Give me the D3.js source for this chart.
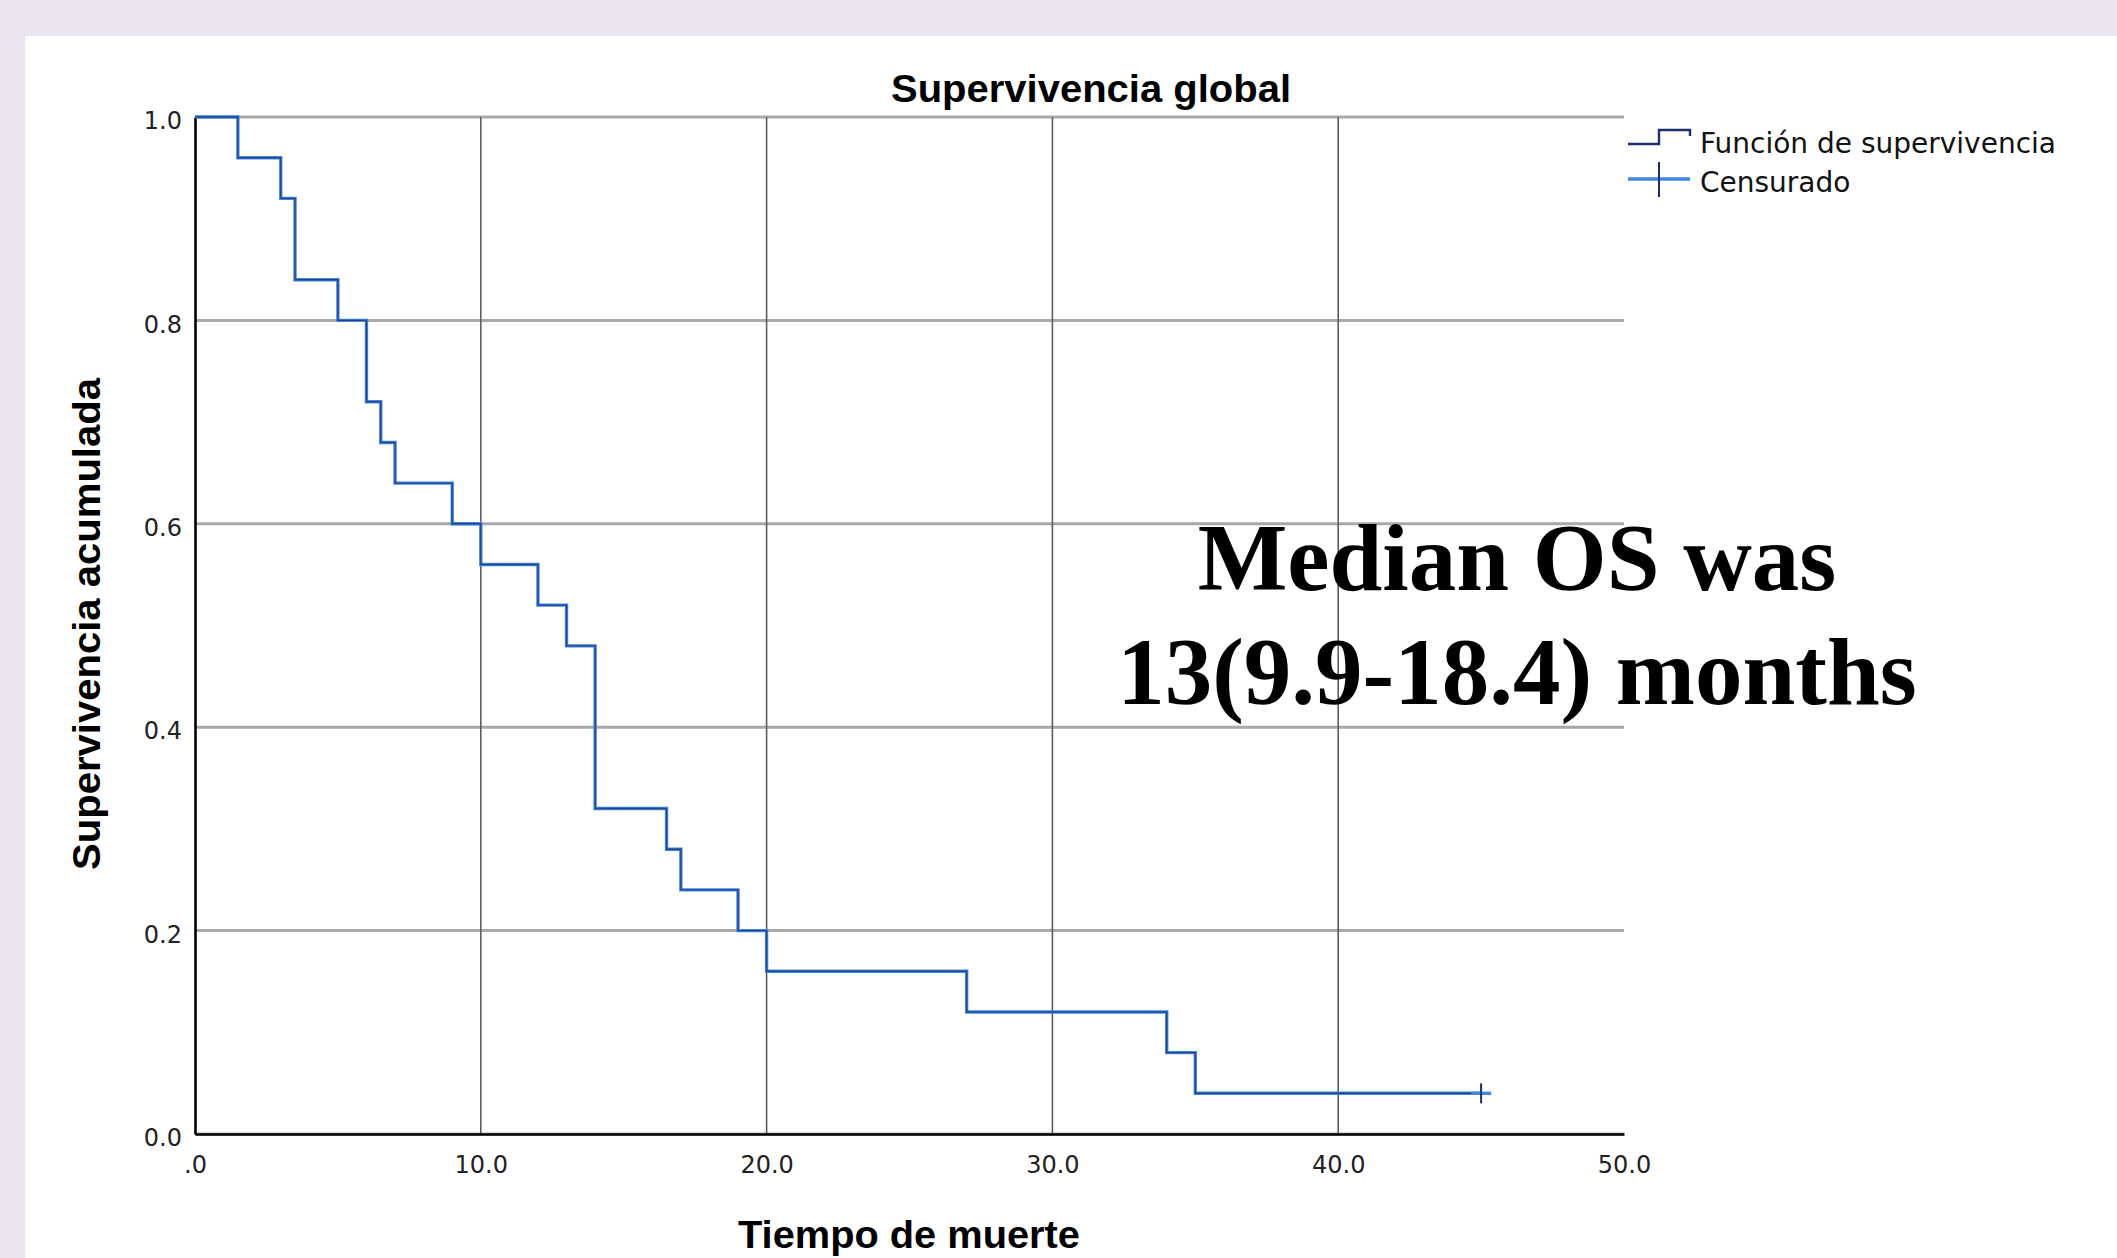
<!DOCTYPE html>
<html>
<head>
<meta charset="utf-8">
<script src="https://cdn.jsdelivr.net/npm/d3@7"></script>
<style>
  html, body { margin: 0; padding: 0; background: #e9e4f0; }
  svg { display: block; }
</style>
</head>
<body>
<svg id="chart" width="2117" height="1258"></svg>
<script>
// Kaplan-Meier step values
const eventTimes = [0, 1.5, 3, 3.5, 5, 6, 6.5, 7, 9, 10, 12, 13, 14, 16.5, 17, 19, 20, 27, 34, 35];
const survival = [1.0, 0.96, 0.92, 0.84, 0.80, 0.72, 0.68, 0.64, 0.60, 0.56, 0.52, 0.48, 0.32, 0.28, 0.24, 0.20, 0.16, 0.12, 0.08, 0.04];
const censoredTimes = [45];
const censoredSurvival = [0.04];

const xTicks = [0, 10, 20, 30, 40, 50];
const xTickLabels = ['.0', '10.0', '20.0', '30.0', '40.0', '50.0'];
const yTicks = [0, 0.2, 0.4, 0.6, 0.8, 1.0];
const yTickLabels = ['0.0', '0.2', '0.4', '0.6', '0.8', '1.0'];

const title = 'Supervivencia global';
const xTitle = 'Tiempo de muerte';
const yTitle = 'Supervivencia acumulada';
const legendLabels = ['Función de supervivencia', 'Censurado'];
const noteLines = ['Median OS was', '13(9.9-18.4) months'];

const navy = '#1d2c6e';
const lightBlue = '#4189e0';
const tickFont = '"DejaVu Sans", sans-serif';
const titleFont = '"Liberation Sans", Arial, sans-serif';

const svg = d3.select('#chart');

// white panel on the lavender page
svg.append('rect')
    .attr('x', 25).attr('y', 36)
    .attr('width', 2117 - 25).attr('height', 1258 - 36)
    .attr('fill', 'white');

const x = d3.scaleLinear().domain([0, 50]).range([195, 1624]);
const y = d3.scaleLinear().domain([0, 1]).range([1134, 117]);

// horizontal grid
svg.append('g')
    .selectAll('line')
    .data(yTicks)
    .join('line')
    .attr('x1', x(0)).attr('x2', x(50))
    .attr('y1', d => y(d)).attr('y2', d => y(d))
    .attr('stroke', '#a9a9a9')
    .attr('stroke-width', 3);

// vertical grid (inner ticks only)
svg.append('g')
    .selectAll('line')
    .data(xTicks.filter(d => d > 0 && d < 50))
    .join('line')
    .attr('x1', d => x(d)).attr('x2', d => x(d))
    .attr('y1', y(1)).attr('y2', y(0))
    .attr('stroke', '#5e5e5e')
    .attr('stroke-width', 1.6);

// axes
const xAxis = d3.axisBottom(x)
    .tickValues(xTicks)
    .tickSize(0)
    .tickPadding(0)
    .tickFormat((d, i) => xTickLabels[i]);

const gx = svg.append('g')
    .attr('transform', `translate(0,${y(0)})`)
    .call(xAxis);
gx.select('.domain').attr('stroke', '#000').attr('stroke-width', 2.6);
gx.selectAll('text')
    .attr('y', 39)
    .attr('dy', 0)
    .attr('fill', '#222')
    .style('font-family', tickFont)
    .style('font-size', '24px');

const yAxis = d3.axisLeft(y)
    .tickValues(yTicks)
    .tickSize(0)
    .tickPadding(13)
    .tickFormat((d, i) => yTickLabels[i]);

const gy = svg.append('g')
    .attr('transform', `translate(${x(0)},0)`)
    .call(yAxis);
gy.select('.domain').attr('stroke', '#000').attr('stroke-width', 2.6);
gy.selectAll('text')
    .attr('y', 4)
    .attr('fill', '#222')
    .style('font-family', tickFont)
    .style('font-size', '24px');

// survival curve, extended out to the last censored case
const curvePoints = eventTimes.map((t, i) => [t, survival[i]]);
curvePoints.push([censoredTimes[censoredTimes.length - 1], censoredSurvival[censoredSurvival.length - 1]]);

const stepLine = d3.line()
    .x(d => x(d[0]))
    .y(d => y(d[1]))
    .curve(d3.curveStepAfter);

svg.append('path')
    .datum(curvePoints)
    .attr('d', stepLine)
    .attr('fill', 'none')
    .attr('stroke', lightBlue)
    .attr('stroke-width', 3.4);

svg.append('path')
    .datum(curvePoints)
    .attr('d', stepLine)
    .attr('fill', 'none')
    .attr('stroke', navy)
    .attr('stroke-width', 1.4)
    .attr('stroke-opacity', 0.75);

// censor marks
const censorData = censoredTimes.map((t, i) => [t, censoredSurvival[i]]);
const marks = svg.append('g')
    .selectAll('g')
    .data(censorData)
    .join('g')
    .attr('transform', d => `translate(${x(d[0])},${y(d[1])})`);
marks.append('line')
    .attr('x1', -10).attr('x2', 10)
    .attr('stroke', lightBlue).attr('stroke-width', 3.4);
marks.append('line')
    .attr('y1', -10).attr('y2', 10)
    .attr('stroke', navy).attr('stroke-width', 2);

// titles
svg.append('text')
    .attr('x', 1091).attr('y', 102)
    .attr('text-anchor', 'middle')
    .attr('textLength', 400)
    .attr('lengthAdjust', 'spacingAndGlyphs')
    .style('font-family', titleFont)
    .style('font-weight', 'bold')
    .style('font-size', '38px')
    .text(title);

svg.append('text')
    .attr('x', 909).attr('y', 1248)
    .attr('text-anchor', 'middle')
    .attr('textLength', 342)
    .attr('lengthAdjust', 'spacingAndGlyphs')
    .style('font-family', titleFont)
    .style('font-weight', 'bold')
    .style('font-size', '38px')
    .text(xTitle);

svg.append('text')
    .attr('transform', 'translate(100,624) rotate(-90)')
    .attr('text-anchor', 'middle')
    .attr('textLength', 492)
    .attr('lengthAdjust', 'spacingAndGlyphs')
    .style('font-family', titleFont)
    .style('font-weight', 'bold')
    .style('font-size', '38px')
    .text(yTitle);

// legend
const legend = svg.append('g').attr('transform', 'translate(1628,0)');
legend.append('path')
    .attr('d', 'M0,144 H31 V130 H62 V136')
    .attr('fill', 'none')
    .attr('stroke', navy)
    .attr('stroke-width', 2.4);
legend.append('line')
    .attr('x1', 0).attr('x2', 62)
    .attr('y1', 179).attr('y2', 179)
    .attr('stroke', lightBlue).attr('stroke-width', 3.4);
legend.append('line')
    .attr('x1', 31).attr('x2', 31)
    .attr('y1', 162).attr('y2', 197)
    .attr('stroke', navy).attr('stroke-width', 2);
legend.selectAll('text')
    .data(legendLabels)
    .join('text')
    .attr('x', 72)
    .attr('y', (d, i) => 153 + i * 39)
    .attr('fill', '#111')
    .style('font-family', tickFont)
    .style('font-size', '28px')
    .text(d => d);

// median annotation
svg.append('g')
    .selectAll('text')
    .data(noteLines)
    .join('text')
    .attr('x', 1517)
    .attr('y', (d, i) => 590 + i * 114)
    .attr('text-anchor', 'middle')
    .style('font-family', '"Liberation Serif", "Times New Roman", serif')
    .style('font-weight', 'bold')
    .style('font-size', '95px')
    .text(d => d);
</script>
</body>
</html>
